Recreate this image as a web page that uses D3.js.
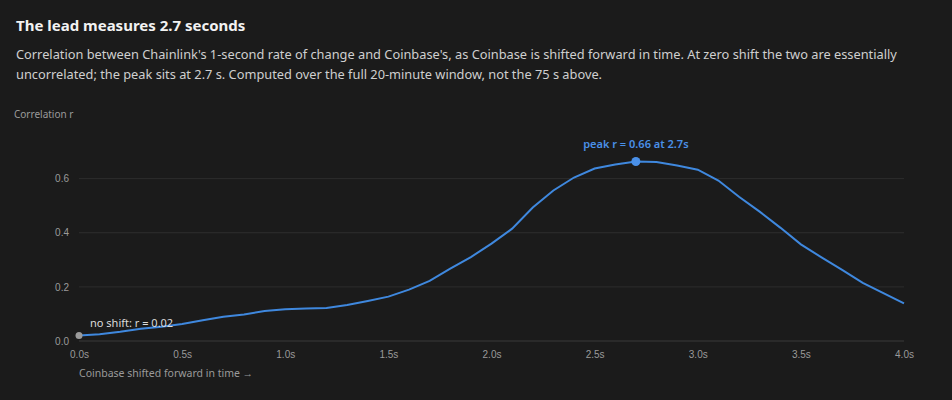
<!DOCTYPE html>
<html>
<head>
<meta charset="utf-8">
<script src="https://cdn.jsdelivr.net/npm/d3@7"></script>
<style>
  body { margin: 0; background: #1b1b1b; font-family: "Segoe UI", "Noto Sans", "Open Sans", sans-serif; width: 952px; height: 400px; overflow: hidden; position: relative; }
  h3 { position: absolute; left: 16px; top: 15px; margin: 0; font-size: 15px; font-weight: 700; color: #f2f2f2; }
  p.sub { position: absolute; left: 16px; top: 44px; margin: 0; width: 910px; font-size: 12.8px; line-height: 20px; color: #cfcfcf; }
  #chart { position: absolute; left: 10px; top: 100px; }
</style>
</head>
<body>
<h3>The lead measures 2.7 seconds</h3>
<p class="sub">Correlation between Chainlink's 1-second rate of change and Coinbase's, as Coinbase is shifted forward in time. At zero shift the two are essentially uncorrelated; the peak sits at 2.7 s. Computed over the full 20-minute window, not the 75 s above.</p>
<div id="chart"></div>
<script>
  // lag in seconds, correlation r
  const lags = d3.range(0, 41).map((i) => i / 10);
  const corr = [
    0.02, 0.025, 0.034, 0.045, 0.053, 0.063, 0.077, 0.09, 0.098, 0.111,
    0.117, 0.12, 0.122, 0.133, 0.148, 0.164, 0.19, 0.222, 0.267, 0.31,
    0.36, 0.415, 0.493, 0.556, 0.604, 0.637, 0.652, 0.663, 0.661, 0.648,
    0.633, 0.593, 0.533, 0.478, 0.419, 0.357, 0.309, 0.263, 0.215, 0.177,
    0.139
  ];
  const xTicks = [0, 0.5, 1, 1.5, 2, 2.5, 3, 3.5, 4];
  const yTicks = [0, 0.2, 0.4, 0.6];

  const data = lags.map((t, i) => ({ t: t, r: corr[i] }));

  const margin = { top: 38, right: 32, bottom: 59, left: 69 },
    width = 926 - margin.left - margin.right,
    height = 300 - margin.top - margin.bottom;

  const root = d3.select("#chart").append("svg")
    .attr("width", 926)
    .attr("height", 300);

  const svg = root.append("g")
    .attr("transform", `translate(${margin.left},${margin.top})`);

  const x = d3.scaleLinear().domain([0, 4]).range([0, width]);
  const y = d3.scaleLinear().domain([0, 0.75]).range([height, 0]);

  // gridlines
  svg.selectAll(".grid")
    .data(yTicks)
    .enter()
    .append("line")
    .attr("x1", 0)
    .attr("x2", width)
    .attr("y1", (d) => y(d))
    .attr("y2", (d) => y(d))
    .style("stroke", (d) => (d === 0 ? "#3a3a3a" : "#2d2d2d"))
    .style("stroke-width", 1);

  const yAxis = svg.append("g")
    .call(d3.axisLeft(y).tickValues(yTicks).tickFormat(d3.format(".1f")).tickSize(0).tickPadding(10));
  yAxis.select(".domain").remove();
  yAxis.selectAll("text").style("fill", "#9a9a9a").style("font-size", "10px").style("font-family", "inherit");

  const xAxis = svg.append("g")
    .attr("transform", `translate(0,${height})`)
    .call(d3.axisBottom(x).tickValues(xTicks).tickFormat((d) => d3.format(".1f")(d) + "s").tickSize(0).tickPadding(10));
  xAxis.select(".domain").remove();
  xAxis.selectAll("text").style("fill", "#9a9a9a").style("font-size", "10px").style("font-family", "inherit");

  root.append("text")
    .attr("x", 4)
    .attr("y", 18)
    .style("fill", "#9a9a9a")
    .style("font-size", "10px")
    .text("Correlation r");

  svg.append("text")
    .attr("x", 0)
    .attr("y", height + 36)
    .style("fill", "#9a9a9a")
    .style("font-size", "10.5px")
    .text("Coinbase shifted forward in time \u2192");

  const line = d3.line()
    .x((d) => x(d.t))
    .y((d) => y(d.r));

  svg.append("path")
    .datum(data)
    .attr("d", line)
    .style("fill", "none")
    .style("stroke", "#3f88de")
    .style("stroke-width", "2px");

  const peak = data.reduce((a, b) => (b.r > a.r ? b : a));
  const start = data[0];

  svg.append("circle")
    .attr("cx", x(start.t))
    .attr("cy", y(start.r))
    .attr("r", 3.5)
    .style("fill", "#9a9a9a");

  svg.append("text")
    .attr("x", x(start.t) + 11)
    .attr("y", y(start.r) - 9)
    .style("fill", "#dcdcdc")
    .style("font-size", "11px")
    .text(`no shift: r = ${start.r.toFixed(2)}`);

  svg.append("circle")
    .attr("cx", x(peak.t))
    .attr("cy", y(peak.r))
    .attr("r", 4.5)
    .style("fill", "#4a90e8");

  svg.append("text")
    .attr("x", x(peak.t))
    .attr("y", y(peak.r) - 14)
    .style("text-anchor", "middle")
    .style("fill", "#4a90e8")
    .style("font-size", "11px")
    .style("font-weight", 600)
    .text(`peak r = ${peak.r.toFixed(2)} at ${peak.t.toFixed(1)}s`);
</script>
</body>
</html>
